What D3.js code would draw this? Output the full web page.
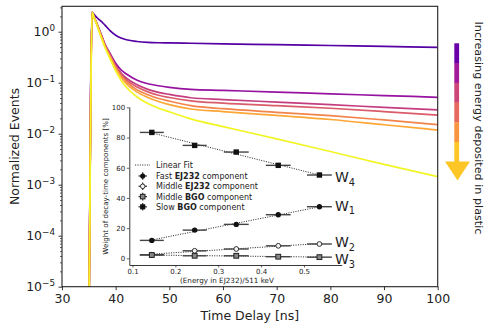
<!DOCTYPE html>
<html>
<head>
<meta charset="utf-8">
<script src="https://cdn.jsdelivr.net/npm/d3@7"></script>
<style>
  body { margin: 0; background: #fff; }
  svg { display: block; font-family: "DejaVu Sans", sans-serif; }
</style>
</head>
<body>
<svg id="chart" width="487" height="323"></svg>
<script>
// ---- Main panel: normalized time profiles, one per deposited-energy bin ----
const times = [35.0, 35.35, 35.6, 36, 36.5, 37, 37.5, 38, 39, 40, 41, 42, 44, 46, 48, 50, 54, 60, 70, 80, 90, 100];

const profile1 = [1e-6, 0.09, 2.40, 2.16, 1.90, 1.70, 1.53, 1.35, 1.035, 0.851, 0.750, 0.695, 0.643, 0.619, 0.608, 0.604, 0.594, 0.579, 0.557, 0.536, 0.514, 0.494];
const profile2 = [1e-6, 0.07, 2.40, 1.92, 1.45, 1.07, 0.776, 0.575, 0.367, 0.240, 0.178, 0.148, 0.112, 0.0955, 0.0871, 0.0813, 0.0741, 0.0708, 0.0655, 0.0605, 0.0560, 0.0518];
const profile3 = [1e-6, 0.06, 2.40, 1.91, 1.43, 1.05, 0.759, 0.556, 0.347, 0.219, 0.155, 0.123, 0.0912, 0.0741, 0.0646, 0.0589, 0.0507, 0.0468, 0.0417, 0.0372, 0.0327, 0.0292];
const profile4 = [1e-6, 0.05, 2.40, 1.90, 1.41, 1.02, 0.741, 0.543, 0.335, 0.209, 0.146, 0.114, 0.0822, 0.0661, 0.0569, 0.0513, 0.0442, 0.0398, 0.0355, 0.0316, 0.0272, 0.0231];
const profile5 = [1e-6, 0.045, 2.40, 1.89, 1.40, 1.00, 0.724, 0.531, 0.324, 0.200, 0.136, 0.104, 0.0724, 0.0582, 0.0490, 0.0437, 0.0355, 0.0309, 0.0263, 0.0226, 0.0186, 0.0151];
const profile6 = [1e-6, 0.04, 2.40, 1.88, 1.38, 0.989, 0.708, 0.519, 0.313, 0.191, 0.129, 0.0955, 0.0653, 0.0513, 0.0427, 0.0372, 0.0305, 0.0272, 0.0228, 0.0190, 0.0150, 0.0118];
const profile7 = [1e-6, 0.03, 2.40, 1.86, 1.35, 0.955, 0.676, 0.490, 0.288, 0.170, 0.112, 0.0813, 0.0525, 0.0389, 0.0316, 0.0269, 0.0195, 0.0138, 0.00794, 0.00447, 0.00251, 0.00144];

const profiles = [profile1, profile2, profile3, profile4, profile5, profile6, profile7];
const profileColorPos = [0.15, 0.32, 0.47, 0.57, 0.70, 0.80, 0.99];

const xTicks = [30, 40, 50, 60, 70, 80, 90, 100];
const yTickExponents = [-5, -4, -3, -2, -1, 0];

// ---- Inset: weights of the decay-time components vs. deposited energy ----
const energyFrac = [0.145, 0.245, 0.342, 0.440, 0.536];
const energyErr = [0.028, 0.028, 0.029, 0.029, 0.029];
const wFastEJ232 = [11.9, 18.7, 22.5, 28.9, 34.2];   // W1
const wMidEJ232 = [2.4, 5.0, 6.2, 8.3, 9.5];         // W2
const wMidBGO = [2.2, 1.7, 1.7, 1.1, 0.8];           // W3
const wSlowBGO = [83.4, 74.8, 70.4, 61.6, 55.2];     // W4
// Linear-fit values at the first and last energy point
const fitFirst = [12.2, 2.8, 2.2, 83.1];
const fitLast = [34.1, 9.8, 0.84, 55.2];
const insetXTicks = [0.1, 0.2, 0.3, 0.4, 0.5];
const insetYTicks = [0, 20, 40, 60, 80, 100];

const svg = d3.select("#chart");
const ink = "#222";

// Scales
const M = { left: 62, right: 437.7, top: 6.3, bottom: 286.7 };
const x = d3.scaleLinear().domain([30, 100]).range([M.left, M.right]);
const y = d3.scaleLog().domain([1e-5, 3.15]).range([M.bottom, M.top]);

svg.append("defs").append("clipPath").attr("id", "plotClip")
  .append("rect").attr("x", M.left).attr("y", M.top)
  .attr("width", M.right - M.left).attr("height", M.bottom - M.top);

// Curves
const line = d3.line().x(d => x(d[0])).y(d => y(d[1])).curve(d3.curveMonotoneX);
const curves = svg.append("g").attr("clip-path", "url(#plotClip)");
profiles.forEach((p, i) => {
  curves.append("path")
    .attr("d", line(times.map((t, k) => [t, p[k]])))
    .attr("fill", "none")
    .attr("stroke", d3.interpolatePlasma(profileColorPos[i]))
    .attr("stroke-width", 1.7)
    .attr("stroke-linejoin", "round");
});

// Axes
const xAxis = svg.append("g").attr("transform", `translate(0,${M.bottom})`)
  .call(d3.axisBottom(x).tickValues(xTicks).tickSize(3.5).tickSizeOuter(0).tickPadding(3.5));
xAxis.select(".domain").remove();
xAxis.selectAll("line").attr("stroke", ink).attr("stroke-width", 0.9);
xAxis.selectAll("text").attr("font-size", 12.5).attr("font-family", "DejaVu Sans").attr("fill", ink);

const yAxis = svg.append("g").attr("transform", `translate(${M.left},0)`)
  .call(d3.axisLeft(y).tickValues(yTickExponents.map(e => Math.pow(10, e))).tickSize(3.5).tickSizeOuter(0).tickFormat(""));
yAxis.select(".domain").remove();
yAxis.selectAll("line").attr("stroke", ink).attr("stroke-width", 0.9);

const minors = [];
for (let e = -5; e <= 0; e++) for (let m = 2; m <= 9; m++) {
  const v = m * Math.pow(10, e);
  if (v <= 3.15) minors.push(v);
}
const yMinor = svg.append("g").attr("transform", `translate(${M.left},0)`)
  .call(d3.axisLeft(y).tickValues(minors).tickSize(2).tickSizeOuter(0).tickFormat(""));
yMinor.select(".domain").remove();
yMinor.selectAll("line").attr("stroke", ink).attr("stroke-width", 0.7);

const yLabels = svg.append("g").attr("fill", ink).attr("text-anchor", "end");
yTickExponents.forEach(e => {
  const t = yLabels.append("text").attr("x", 55).attr("y", y(Math.pow(10, e)) + 4.4).attr("font-size", 12.5);
  t.append("tspan").text("10");
  t.append("tspan").attr("dy", -5.5).attr("font-size", 8.8).text(e === 0 ? "0" : "\u2212" + Math.abs(e));
});

// Frame
svg.append("rect").attr("x", M.left).attr("y", M.top)
  .attr("width", M.right - M.left).attr("height", M.bottom - M.top)
  .attr("fill", "none").attr("stroke", ink).attr("stroke-width", 1.1);

svg.append("text").attr("x", (M.left + M.right) / 2).attr("y", 319.5)
  .attr("text-anchor", "middle").attr("font-size", 12.5).attr("fill", ink).text("Time Delay [ns]");
svg.append("text").attr("transform", `translate(19,${(M.top + M.bottom) / 2}) rotate(-90)`)
  .attr("text-anchor", "middle").attr("font-size", 12.5).attr("fill", ink).text("Normalized Events");

// Energy arrow at the right
const arrowColorPos = [0.2, 0.35, 0.5, 0.62, 0.75, 0.88];
const arrow = svg.append("g");
const segTop = 43.3, segBot = 161.7, segH = (segBot - segTop) / arrowColorPos.length;
arrowColorPos.forEach((c, i) => {
  arrow.append("rect").attr("x", 454.3).attr("y", segTop + i * segH)
    .attr("width", 4.8).attr("height", segH + 0.3).attr("fill", d3.interpolatePlasma(c));
});
arrow.append("path").attr("d", "M445,161.5 L470,161.5 L457.5,180.5 Z")
  .attr("fill", d3.interpolatePlasma(arrowColorPos[arrowColorPos.length - 1]));
svg.append("text").attr("transform", "translate(474.5,128) rotate(90)")
  .attr("text-anchor", "middle").attr("font-size", 11.2).attr("fill", ink)
  .text("Increasing energy deposited in plastic");

// ---- Inset ----
const I = { left: 129.3, right: 341.7, top: 106.9, bottom: 265 };
const xIn = d3.scaleLinear().domain([0.0925, 0.588]).range([I.left, I.right]);
const yIn = d3.scaleLinear().domain([-4.4, 100.3]).range([I.bottom, I.top]);
const inset = svg.append("g");

const ixAxis = inset.append("g").attr("transform", `translate(0,${I.bottom})`)
  .call(d3.axisBottom(xIn).tickValues(insetXTicks).tickFormat(d3.format(".1f")).tickSize(2.5).tickSizeOuter(0).tickPadding(1.5));
const iyAxis = inset.append("g").attr("transform", `translate(${I.left},0)`)
  .call(d3.axisLeft(yIn).tickValues(insetYTicks).tickSize(2.5).tickSizeOuter(0).tickPadding(1.6));
[ixAxis, iyAxis].forEach(a => {
  a.select(".domain").attr("stroke", ink).attr("stroke-width", 0.9);
  a.selectAll("line").attr("stroke", ink).attr("stroke-width", 0.7);
  a.selectAll("text").attr("font-size", 7).attr("font-family", "DejaVu Sans").attr("fill", ink);
});

inset.append("text").attr("x", 227).attr("y", 282.5).attr("text-anchor", "middle")
  .attr("font-size", 7.2).attr("fill", ink).text("(Energy in EJ232)/511 keV");
inset.append("text").attr("transform", `translate(107.5,${(I.top + I.bottom) / 2 + 0.5}) rotate(-90)`)
  .attr("text-anchor", "middle").attr("font-size", 7.1).attr("fill", ink)
  .text("Weight of decay-time components [%]");

const weights = [wFastEJ232, wMidEJ232, wMidBGO, wSlowBGO];
const nLast = energyFrac.length - 1;

// Linear fits (dotted)
weights.forEach((w, i) => {
  inset.append("line")
    .attr("x1", xIn(energyFrac[0])).attr("y1", yIn(fitFirst[i]))
    .attr("x2", xIn(energyFrac[nLast])).attr("y2", yIn(fitLast[i]))
    .attr("stroke", "#333").attr("stroke-width", 1).attr("stroke-dasharray", "1.1,1.3");
});

// Marker drawing per component
function marker(g, kind, cx, cy, s) {
  if (kind === 0) g.append("circle").attr("cx", cx).attr("cy", cy).attr("r", 2.7 * s).attr("fill", "#111");
  else if (kind === 1) g.append("circle").attr("cx", cx).attr("cy", cy).attr("r", 2.4 * s)
    .attr("fill", "#f4f4f4").attr("stroke", "#333").attr("stroke-width", 1);
  else if (kind === 2) g.append("rect").attr("x", cx - 2.4 * s).attr("y", cy - 2.4 * s)
    .attr("width", 4.8 * s).attr("height", 4.8 * s).attr("fill", "#888").attr("stroke", "#222").attr("stroke-width", 1);
  else g.append("rect").attr("x", cx - 2.7 * s).attr("y", cy - 2.7 * s)
    .attr("width", 5.4 * s).attr("height", 5.4 * s).attr("fill", "#111");
}

weights.forEach((w, i) => {
  const g = inset.append("g");
  w.forEach((v, k) => {
    g.append("line")
      .attr("x1", xIn(energyFrac[k] - energyErr[k])).attr("x2", xIn(energyFrac[k] + energyErr[k]))
      .attr("y1", yIn(v)).attr("y2", yIn(v))
      .attr("stroke", "#444").attr("stroke-width", 1.4);
    marker(g, i, xIn(energyFrac[k]), yIn(v), 1);
  });
});

// W labels beside the last point of each component
const wNames = ["1", "2", "3", "4"];
const wLabelNudge = [3.8, 3.2, 7.2, 7];
weights.forEach((w, i) => {
  const t = inset.append("text")
    .attr("x", xIn(energyFrac[nLast]) + 15.5)
    .attr("y", yIn(w[nLast]) + wLabelNudge[i])
    .attr("font-size", 14).attr("fill", ink);
  t.append("tspan").text("W");
  t.append("tspan").attr("dy", 3.5).attr("font-size", 9.8).text(wNames[i]);
});

// Legend
const legend = inset.append("g").attr("fill", ink).attr("font-size", 8);
legend.append("line").attr("x1", 135).attr("x2", 150).attr("y1", 165).attr("y2", 165)
  .attr("stroke", "#333").attr("stroke-width", 1).attr("stroke-dasharray", "1.1,1.3");
legend.append("text").attr("x", 156).attr("y", 167.8).text("Linear Fit");
const legendRows = [
  ["Fast ", "EJ232", " component"],
  ["Middle ", "EJ232", " component"],
  ["Middle ", "BGO", " component"],
  ["Slow ", "BGO", " component"]
];
const legendY = [176, 186.3, 196.6, 206.8];
legendRows.forEach((r, i) => {
  const cy = legendY[i];
  legend.append("line").attr("x1", 138.5).attr("x2", 147).attr("y1", cy).attr("y2", cy)
    .attr("stroke", "#333").attr("stroke-width", 1.2);
  legend.append("line").attr("x1", 142.7).attr("x2", 142.7).attr("y1", cy - 3.8).attr("y2", cy + 3.8)
    .attr("stroke", "#333").attr("stroke-width", 1.2);
  marker(legend, i, 142.7, cy, 0.95);
  const t = legend.append("text").attr("x", 156).attr("y", cy + 2.9);
  t.append("tspan").text(r[0]);
  t.append("tspan").attr("font-weight", "bold").text(r[1]);
  t.append("tspan").text(r[2]);
});
</script>
</body>
</html>
